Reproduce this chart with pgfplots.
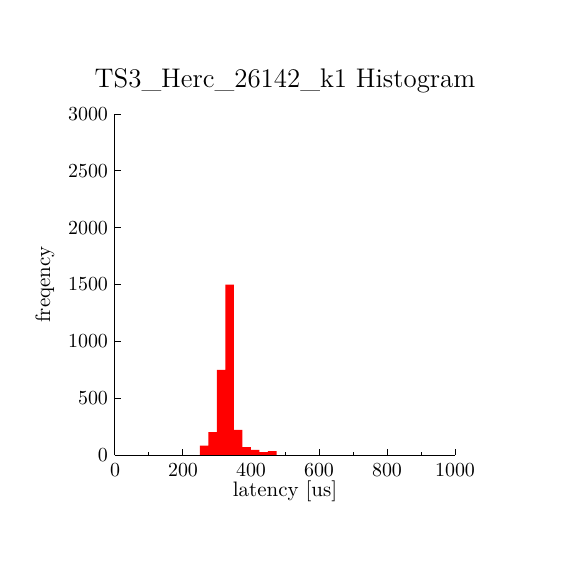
\documentclass[border=0pt]{standalone}
\usepackage{pgfplots}
\pgfplotsset{compat=1.18}
\begin{document}
\begin{tikzpicture}
\begin{axis}[
  scale only axis,
  width=170bp, height=170.5bp,
  xmin=0, xmax=1000, ymin=0, ymax=3000,
  axis lines*=left,
  axis line style={black, line width=0.5bp},
  tick align=inside,
  tick style={black, line width=0.5bp},
  major tick length=3bp, minor tick length=1.6bp,
  xtick={0,200,...,1000},
  minor xtick={100,300,...,900},
  ytick={0,500,...,3000},
  scaled y ticks=false,
  yticklabel style={/pgf/number format/1000 sep={}},
  xticklabel style={/pgf/number format/1000 sep={}, yshift=-1bp},
  tick label style={font=\fontsize{10}{12}\selectfont},
  title={TS3\_Herc\_26142\_k1 Histogram},
  title style={at={(axis description cs:0.5,1.044)}, anchor=base, font=\fontsize{13.5}{16}\selectfont},
  xlabel={latency [us]},
  xlabel style={at={(axis description cs:0.5,-0.123)}, anchor=base, font=\fontsize{10.5}{12}\selectfont},
  ylabel={freqency},
  ylabel style={at={(axis description cs:-0.206,0.5)}, anchor=center, font=\fontsize{10.5}{12}\selectfont},
]
\addplot[red, line width=0.5bp, forget plot] coordinates {(0,0) (1000,0)};
\addplot[ybar interval, fill=red, draw=none, forget plot] coordinates {
  (250,82) (275,202) (300,750) (325,1500) (350,220) (375,70) (400,44) (425,26) (450,35) (475,35)
};
\coordinate (ll) at (rel axis cs:0,0);
\end{axis}
\pgfresetboundingbox
\path (ll) ++(-57.5bp,-57.5bp) rectangle ++(285bp,285bp);
\end{tikzpicture}
\end{document}
